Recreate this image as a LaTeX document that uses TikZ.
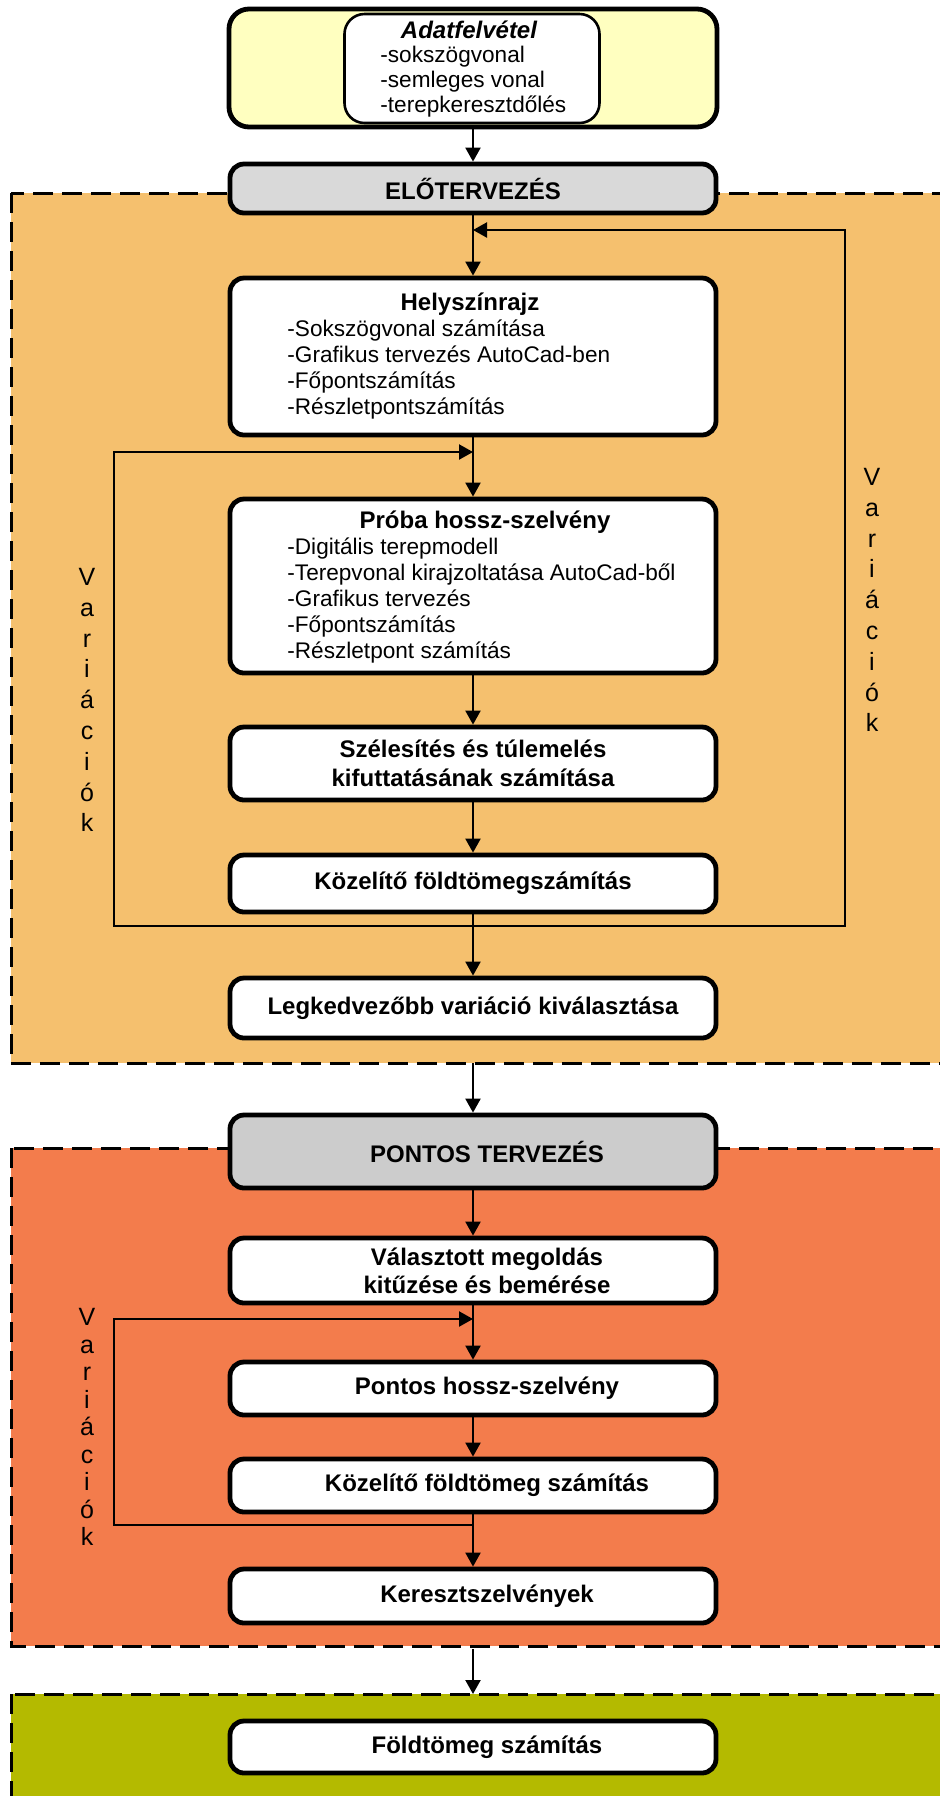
\documentclass[tikz,border=0pt]{standalone}
\usepackage{fontspec}
\setmainfont{Liberation Sans}
\usetikzlibrary{arrows.meta}

\definecolor{adatyellow}{RGB}{255,255,192}
\definecolor{eloorange}{RGB}{245,192,110}
\definecolor{pontosred}{RGB}{243,124,76}
\definecolor{foldgreen}{RGB}{180,186,0}
\definecolor{phasegray}{RGB}{217,217,217}
\definecolor{phasegray2}{RGB}{204,204,204}

\tikzset{
  stepbox/.style={draw, line width=2.4pt, rounded corners=7pt, fill=white,
    minimum width=243pt, inner sep=0pt, align=center,
    font=\fontsize{12}{14.2}\selectfont\bfseries},
  shifted/.style={execute at begin node=\hspace*{14pt}},
  region/.style={draw, line width=1.5pt, dash pattern=on 10pt off 4.5pt},
  item/.style={anchor=base west, inner sep=0pt, font=\fontsize{11.3}{13}\selectfont},
  boxtitle/.style={anchor=base, inner sep=0pt, font=\fontsize{12}{14}\selectfont\bfseries},
  vartext/.style={align=center, inner sep=0pt, font=\fontsize{12.5}{15.4}\selectfont},
  flow/.style={line width=1.1pt, -{Triangle[length=7pt,width=7.5pt]}},
  link/.style={line width=1.1pt}
}

\begin{document}
\begin{tikzpicture}[x=0.5pt,y=-0.5pt]
\useasboundingbox (0,0) rectangle (939,1796);

% phase areas
\draw[region, fill=eloorange] (11,193) rectangle (960,1063);
\draw[region, fill=pontosred] (11,1148) rectangle (960,1646);
\draw[region, fill=foldgreen] (11,1694) rectangle (960,1830);

% data collection
\node[draw, line width=2.4pt, rounded corners=10pt, fill=adatyellow,
  minimum width=244pt, minimum height=59pt] (adat) at (473,68) {};
\node[draw, line width=1.3pt, rounded corners=10pt, fill=white,
  minimum width=127.5pt, minimum height=54.5pt] (adatin) at (472,68.5) {};
\node[boxtitle, font=\fontsize{12}{14}\selectfont\bfseries\itshape] (adat-t) at (469,38) {Adatfelvétel};
\foreach \t [count=\i] in {-sokszögvonal, -semleges vonal, -terepkeresztdőlés}
  \node[item] (adat-l\i) at (380,{37+25*\i}) {\t};

% pre-design
\node[stepbox, fill=phasegray, minimum height=24.5pt] (elo) at (473,188.5) {ELŐTERVEZÉS};

\node[stepbox, minimum height=78.5pt] (helysz) at (473,356.5) {};
\node[boxtitle] (helysz-t) at (470,310) {Helyszínrajz};
\foreach \t [count=\i] in {-Sokszögvonal számítása, -Grafikus tervezés AutoCad-ben,
  -Főpontszámítás, -Részletpontszámítás}
  \node[item] (helysz-l\i) at (287,{309.7+26.3*\i}) {\t};

\node[stepbox, minimum height=87pt] (proba) at (473,586) {};
\node[boxtitle] (proba-t) at (485,528) {Próba hossz-szelvény};
\foreach \t [count=\i] in {-Digitális terepmodell, -Terepvonal kirajzoltatása AutoCad-ből,
  -Grafikus tervezés, -Főpontszámítás, -Részletpont számítás}
  \node[item] (proba-l\i) at (287,{528+26*\i}) {\t};

\node[stepbox, minimum height=36.5pt] (szeles) at (473,763.5) {Szélesítés és túlemelés\\kifuttatásának számítása};
\node[stepbox, minimum height=28.5pt] (kozel1) at (473,883.5) {Közelítő földtömegszámítás};
\node[stepbox, minimum height=30pt] (legk) at (473,1008) {Legkedvezőbb variáció kiválasztása};

% exact design
\node[stepbox, fill=phasegray2, minimum height=36.5pt, shifted] (pontos) at (473,1151.5) {PONTOS TERVEZÉS};
\node[stepbox, minimum height=32.5pt, shifted] (valaszt) at (473,1270.5) {Választott megoldás\\kitűzése és bemérése};
\node[stepbox, minimum height=26.5pt, shifted] (hossz) at (473,1388.5) {Pontos hossz-szelvény};
\node[stepbox, minimum height=26.5pt, shifted] (kozel2) at (473,1485.5) {Közelítő földtömeg számítás};
\node[stepbox, minimum height=27pt, shifted] (kereszt) at (473,1596) {Keresztszelvények};

% earthwork
\node[stepbox, minimum height=26pt, shifted] (fold) at (473,1747) {Földtömeg számítás};

% variation labels
\node[vartext] (var-l1) at (87,700) {V\\a\\r\\i\\á\\c\\i\\ó\\k};
\node[vartext] (var-r1) at (872,600) {V\\a\\r\\i\\á\\c\\i\\ó\\k};
\node[vartext, font=\fontsize{12.5}{13.75}\selectfont] (var-l2) at (87,1427) {V\\a\\r\\i\\á\\c\\i\\ó\\k};

% loop points
\coordinate (rjoin) at (473,230);
\coordinate (ljoin) at (473,452);
\coordinate (loopbot) at (473,926);
\coordinate (rcorner-t) at (845,230);
\coordinate (rcorner-b) at (845,926);
\coordinate (lcorner-t) at (114,452);
\coordinate (lcorner-b) at (114,926);
\coordinate (elo-end) at (473,1063);
\coordinate (pjoin) at (473,1319);
\coordinate (pbot) at (473,1525);
\coordinate (pcorner-t) at (114,1319);
\coordinate (pcorner-b) at (114,1525);
\coordinate (pontos-end) at (473,1649);
\coordinate (fold-top) at (473,1694);

% connectors
\draw[flow] (adat) -- (elo);
\draw[flow] (elo) -- (helysz);
\draw[flow] (helysz) -- (proba);
\draw[flow] (proba) -- (szeles);
\draw[flow] (szeles) -- (kozel1);
\draw[flow] (kozel1) -- (legk);
\draw[flow] (loopbot) -- (rcorner-b) -- (rcorner-t) -- (rjoin);
\draw[flow] (loopbot) -- (lcorner-b) -- (lcorner-t) -- (ljoin);
\draw[flow] (elo-end) -- (pontos);
\draw[flow] (pontos) -- (valaszt);
\draw[flow] (valaszt) -- (hossz);
\draw[flow] (hossz) -- (kozel2);
\draw[flow] (kozel2) -- (kereszt);
\draw[flow] (pbot) -- (pcorner-b) -- (pcorner-t) -- (pjoin);
\draw[flow] (pontos-end) -- (fold-top);

\end{tikzpicture}
\end{document}
